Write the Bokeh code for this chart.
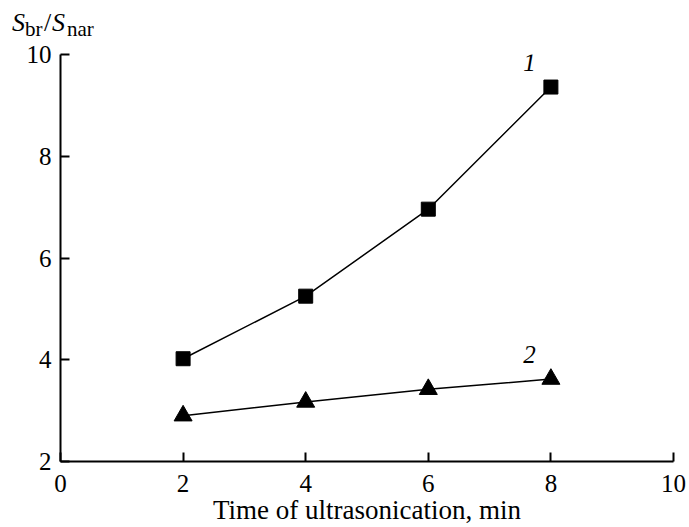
from bokeh.plotting import figure
from bokeh.models import Range1d, FixedTicker, Label, Div
from bokeh.layouts import column
from bokeh.embed import file_html
from bokeh.resources import INLINE

time_min = [2, 4, 6, 8]
series1 = [4.02, 5.25, 6.96, 9.36]
series2 = [2.90, 3.17, 3.42, 3.62]
x_ticks = [0, 2, 4, 6, 8, 10]
y_ticks = [2, 4, 6, 8, 10]
y_label_parts = [("S", "italic", 26, 12, 10), ("br", "normal", 21, 25, 19),
                 ("/", "normal", 26, 44, 10), ("S", "italic", 26, 52, 10),
                 ("nar", "normal", 21, 67, 19)]

FONT = "Liberation Serif"
TOP_H = 40

spans = "".join(
    f'<span style="position:absolute;left:{l}px;top:{t}px;font-size:{s}px;'
    f'font-style:{st};line-height:1;white-space:nowrap;">{txt}</span>'
    for txt, st, s, l, t in y_label_parts)
html = (f'<div style="position:relative;width:200px;height:{TOP_H}px;'
        f'font-family:\'{FONT}\';color:black;">{spans}</div>')
div = Div(text=html, width=689, height=TOP_H, margin=0)

p = figure(width=689, height=527 - TOP_H, output_backend="svg", toolbar_location=None,
           x_range=Range1d(0, 10), y_range=Range1d(2, 10), margin=0,
           min_border_left=60, min_border_right=16, min_border_top=14, min_border_bottom=64)
p.outline_line_color = None
p.grid.visible = False
p.background_fill_color = "white"
p.border_fill_color = "white"

for ax in (p.xaxis[0], p.yaxis[0]):
    ax.axis_line_width = 2
    ax.major_tick_line_width = 2
    ax.major_tick_in = 9
    ax.major_tick_out = 0
    ax.minor_tick_line_color = None
    ax.major_label_text_font = FONT
    ax.major_label_text_font_size = "25px"
    ax.major_label_text_color = "black"
    ax.axis_line_color = "black"
    ax.major_tick_line_color = "black"

p.xaxis.ticker = FixedTicker(ticks=x_ticks)
p.yaxis.ticker = FixedTicker(ticks=y_ticks)
p.xaxis.major_label_standoff = 13
p.yaxis.major_label_standoff = 9
p.xaxis.axis_label = "Time of ultrasonication, min"
p.xaxis.axis_label_text_font = FONT
p.xaxis.axis_label_text_font_style = "normal"
p.xaxis.axis_label_text_font_size = "27px"
p.xaxis.axis_label_text_color = "black"
p.xaxis.axis_label_standoff = 0

p.line(time_min, series1, line_color="black", line_width=1.5)
p.scatter(time_min, series1, marker="square", size=14, color="black")
p.line(time_min, series2, line_color="black", line_width=1.5)
p.scatter(time_min, series2, marker="triangle", size=18, color="black")

# reference pixel -> data helpers for annotation placement
def dx(px):
    return (px - 60) / 61.3
def dy(py):
    return 10 + (54 - py) / 51.1

def lab(txt, px, py, size):
    p.add_layout(Label(x=dx(px), y=dy(py), text=txt, text_font=FONT,
                       text_font_size=size, text_font_style="italic",
                       text_align="center", text_baseline="middle", text_color="black"))

lab("1", 529, 62, "25px")
lab("2", 529, 355, "25px")

open("out.html", "w").write(file_html(column(div, p, spacing=0, margin=0), INLINE))
